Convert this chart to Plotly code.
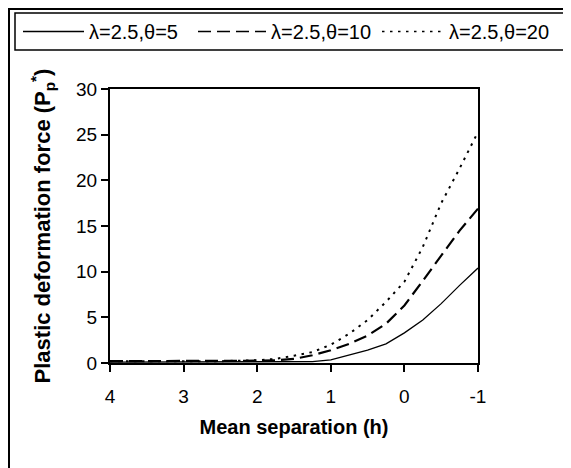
import plotly.graph_objects as go

# Data
h = [4, 3.5, 3, 2.5, 2, 1.75, 1.5, 1.25, 1, 0.75, 0.5, 0.25, 0, -0.25, -0.5, -0.75, -1]
p_theta5 = [0.1, 0.1, 0.1, 0.1, 0.1, 0.1, 0.1, 0.15, 0.35, 0.85, 1.4, 2.1, 3.3, 4.7, 6.5, 8.5, 10.4]
p_theta10 = [0.2, 0.2, 0.2, 0.2, 0.25, 0.3, 0.45, 0.85, 1.4, 2.1, 3.0, 4.3, 6.3, 9.0, 11.8, 14.5, 16.9]
p_theta20 = [0.2, 0.2, 0.2, 0.2, 0.3, 0.45, 0.8, 1.2, 2.0, 3.2, 4.7, 6.7, 8.9, 12.7, 17.5, 21.3, 25.3]
series_names = ["λ=2.5,θ=5", "λ=2.5,θ=10", "λ=2.5,θ=20"]
x_ticks = [4, 3, 2, 1, 0, -1]
y_ticks = [0, 5, 10, 15, 20, 25, 30]

FONT = "Liberation Sans, Arial, sans-serif"
styles = [
    dict(color="black", width=1.3, dash="solid"),
    dict(color="black", width=2.2, dash="13px,6px"),
    dict(color="black", width=2, dash="2.5px,5.5px"),
]

# The page has an 8px body margin; work in page pixels and convert.
OFF = 8
W, H = 571 - OFF, 468 - OFF
L, R, T, B = 110 - OFF, 478 - OFF, 89 - OFF, 363 - OFF


def px(x):
    return (x - OFF - L) / (R - L)


def py(y):
    return (B - (y - OFF)) / (B - T)


fig = go.Figure()
for vals, name, st in zip([p_theta5, p_theta10, p_theta20], series_names, styles):
    fig.add_trace(go.Scatter(x=h, y=vals, mode="lines", name=name, line=st,
                             showlegend=False))

fig.update_layout(
    width=W, height=H,
    margin=dict(l=L, r=W - R, t=T, b=H - B, autoexpand=False),
    paper_bgcolor="white", plot_bgcolor="white",
    font=dict(family=FONT, color="black", size=19),
    showlegend=False,
    xaxis=dict(
        range=[4, -1], tickvals=x_ticks, ticktext=[str(v) for v in x_ticks],
        showgrid=False, zeroline=False,
        showline=True, linecolor="black", linewidth=2, mirror=True,
        ticks="outside", ticklen=7, tickwidth=1.5, tickcolor="black",
        tickfont=dict(size=19), ticklabelstandoff=8,
        title=dict(text="<b>Mean separation (h)</b>", font=dict(size=20), standoff=14),
    ),
    yaxis=dict(
        range=[0, 30], tickvals=y_ticks,
        showgrid=False, zeroline=False,
        showline=True, linecolor="black", linewidth=2, mirror=True,
        ticks="outside", ticklen=7, tickwidth=1.5, tickcolor="black",
        tickfont=dict(size=19),
        title=dict(text="<b>Plastic deformation force (P<sub>p</sub><sup>*</sup>)</b>",
                   font=dict(size=22), standoff=19),
    ),
)

# outer frame (only left and top edges fall inside the picture)
fig.add_shape(type="rect", xref="paper", yref="paper",
              x0=px(9), x1=px(700), y0=py(600), y1=py(9),
              line=dict(color="black", width=2), fillcolor="rgba(0,0,0,0)")

# legend box
fig.add_shape(type="rect", xref="paper", yref="paper",
              x0=px(15), x1=px(564), y0=py(50), y1=py(13),
              line=dict(color="black", width=1.5), fillcolor="white")
sample_x = [(23, 84), (198, 266), (382, 442)]
text_x = [87, 269, 447]
for (x0, x1), tx, name, st in zip(sample_x, text_x, series_names, styles):
    fig.add_shape(type="line", xref="paper", yref="paper",
                  x0=px(x0), x1=px(x1), y0=py(31.5), y1=py(31.5),
                  line=dict(color="black", width=min(st["width"], 1.6), dash=st["dash"]))
    fig.add_annotation(xref="paper", yref="paper", x=px(tx), y=py(31.5),
                       xanchor="left", yanchor="middle", showarrow=False,
                       text=name, font=dict(size=20, family=FONT))

fig.write_html("out.html")
